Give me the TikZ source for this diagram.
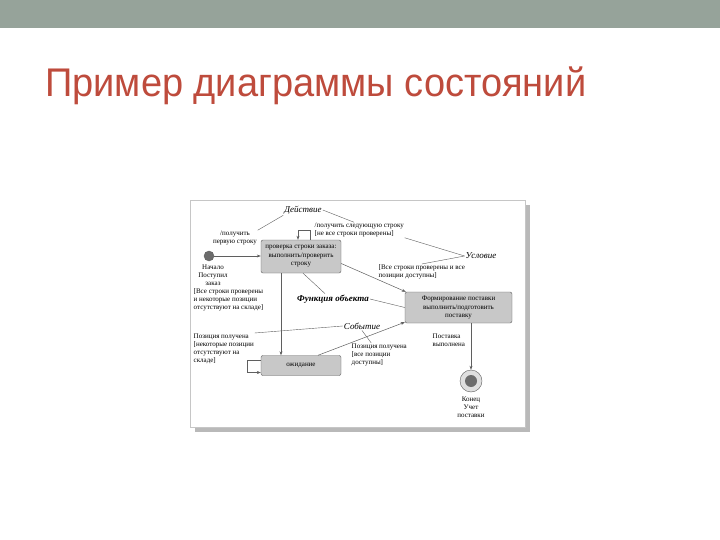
\documentclass[tikz,border=0pt]{standalone}
\usepackage{fontspec}
\setmainfont{Liberation Serif}
\newfontfamily\titlefont{Liberation Sans}
\usetikzlibrary{arrows.meta,positioning}
\definecolor{barcol}{RGB}{150,163,154}
\definecolor{titlecol}{RGB}{190,75,60}
\definecolor{statecol}{RGB}{200,200,200}
\definecolor{linecol}{RGB}{95,95,95}

\begin{document}
\begin{tikzpicture}[x=1pt,y=-1pt,>={Stealth[length=4pt,width=3pt]},
    state/.style={draw=linecol,fill=statecol,rounded corners=2pt,align=center,
      inner sep=1pt,font=\fontsize{7}{8.5}\selectfont},
    lbl/.style={align=left,inner sep=0.5pt,font=\fontsize{7}{8}\selectfont},
    note/.style={inner sep=1pt,font=\fontsize{9}{10}\selectfont\itshape},
    tr/.style={->,draw=linecol,line width=0.5pt},
    pt/.style={draw=linecol,line width=0.4pt}]
  \useasboundingbox (0,0) rectangle (720,540);
  \fill[white] (0,0) rectangle (720,540);
  \fill[barcol] (0,0) rectangle (720,28);
  \node[anchor=base west,inner sep=0,text=titlecol,
    font=\titlefont\fontsize{40}{40}\selectfont] (title) at (45,97)
    {\scalebox{0.95}[1]{Пример диаграммы состояний}};

  \fill[gray!55] (195,205) rectangle (530,432);
  \draw[gray!45,fill=white] (190,200) rectangle (525,427);

  \node[state,minimum width=80pt,minimum height=33pt] (check) at (301,256.5)
    {проверка строки заказа:\\выполнить/проверить\\строку};
  \node[state,minimum width=107pt,minimum height=31pt] (ship) at (458.5,307.5)
    {Формирование поставки\\выполнить/подготовить\\поставку};
  \node[state,minimum width=80pt,minimum height=20pt] (wait) at (301,365.5)
    {ожидание};

  \node[circle,draw=linecol,fill=gray!85!black,minimum size=10pt,inner sep=0] (start) at (209,256) {};
  \node[circle,draw=linecol,fill=gray!25,minimum size=22pt,inner sep=0] (end) at (471,381) {};
  \node[circle,fill=gray!85!black,minimum size=12pt,inner sep=0] (endin) at (end) {};

  \node[lbl,align=center] (lfirst) at (235,238) {/получить\\первую строку};
  \node[lbl,align=center] (lstart) at (213,275) {Начало\\Поступил\\заказ};
  \node[lbl,anchor=north west] (lallmiss) at (193,287.5)
    {{[}Все строки проверены\\и некоторые позиции\\отсутствуют на складе]};
  \node[lbl,anchor=west] (lnext) at (314,230)
    {/получить следующую строку\\{[}не все строки проверены]};
  \node[lbl,anchor=north west] (lallok) at (378,264)
    {{[}Все строки проверены и все\\позиции доступны]};
  \node[lbl,anchor=north west] (lgotsome) at (193,333)
    {Позиция получена\\{[}некоторые позиции\\отсутствуют на\\складе]};
  \node[lbl,anchor=north west] (lgotall) at (351,343)
    {Позиция получена\\{[}все позиции\\доступны]};
  \node[lbl,anchor=north west] (ldone) at (432,333) {Поставка\\выполнена};
  \node[lbl,align=center,anchor=north] (lend) at (471,396) {Конец\\Учет\\поставки};

  \node[note] (nact) at (303,210) {Действие};
  \node[note] (ncond) at (481,256) {Условие};
  \node[note,font=\fontsize{9}{10}\selectfont\bfseries\itshape] (nfunc) at (333,299) {Функция объекта};
  \node[note] (nevent) at (362,326) {Событие};

  \draw[tr] (start) -- (start -| check.west);
  \draw[tr] ([yshift=-7pt]check.east) -- ([xshift=1pt]ship.north west);
  \draw[tr] ([xshift=-20pt]check.south) -- ([xshift=-20pt]wait.north);
  \draw[tr] ([xshift=17pt]wait.north) -- ([yshift=1pt]ship.south west);
  \draw[tr] (ship.south -| end) -- (end.north);
  \draw[tr] ([xshift=9pt]check.north) -- ++(0,-10) -| ([xshift=-3pt]check.north);
  \draw[tr] ([yshift=5.5pt]wait.west) -- ++(-14,0) |- ([yshift=-7pt]wait.west);

  \draw[pt] (nact.south west) -- (lfirst.north east);
  \draw[pt] (nact.east) -- ([xshift=40pt]lnext.north west);
  \draw[pt] (ncond.west) -- (lnext.south east);
  \draw[pt] (ncond.west) -- (lallok.north);
  \draw[pt] ([xshift=-8pt]nfunc.north) -- ([xshift=2pt]check.south);
  \draw[pt] (nfunc.east) -- (ship.west);
  \draw[pt] (nevent.west) -- (lgotsome.north east);
  \draw[pt] (nevent.south) -- ([xshift=-8pt]lgotall.north);
\end{tikzpicture}
\end{document}
